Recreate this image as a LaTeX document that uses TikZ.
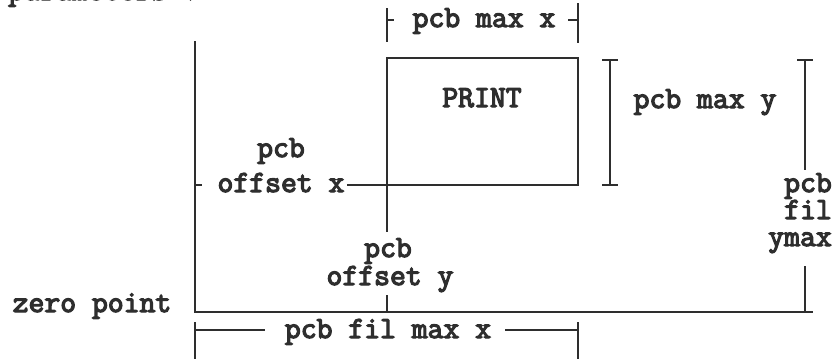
\documentclass[tikz,border=0pt]{standalone}
\usepackage{fontspec}
\newfontfamily\tw[FakeBold=4]{Latin Modern Mono}
\definecolor{ink}{HTML}{2E2E2E}
\begin{document}
\begin{tikzpicture}[x=1pt,y=-1pt,
  lbl/.style={font=\tw\fontsize{30.8}{30.8}\selectfont, text=ink, inner sep=0pt, anchor=base},
  ln/.style={draw=ink, line width=2.8pt, line cap=butt, line join=miter}]
\clip (0,0) rectangle (835,359);
\fill[white] (0,0) rectangle (835,359);
% texts
\node[lbl, anchor=base west] (par) at (8,0) {parameters :};
\node[lbl] (pmx) at (484,27) {pcb max x};
\node[lbl] (print) at (482,107) {PRINT};
\node[lbl] (pmy) at (705,108) {pcb max y};
\node[lbl] (oxa) at (281,157) {pcb};
\node[lbl] (oxb) at (281,192) {offset x};
\node[lbl] (oya) at (388,257) {pcb};
\node[lbl] (oyb) at (390,285) {offset y};
\node[lbl, anchor=base east] (fya) at (832,192) {pcb};
\node[lbl, anchor=base east] (fyb) at (832,219) {fil};
\node[lbl, anchor=base east] (fyc) at (832,246) {ymax};
\node[lbl] (zero) at (92,312) {zero point};
\node[lbl] (fmx) at (388,338) {pcb fil max x};
% coordinates
\coordinate (o) at (195,312);
\coordinate (ltop) at (195,41);
\coordinate (bend) at (813,312);
\coordinate (r1) at (387,58);
\coordinate (r2) at (578,185);
\coordinate (rbl) at (387,185);
% frame
\draw[ln] (ltop) -- (o) -- (bend);
\draw[ln] (r1) rectangle (r2);
% offset x
\draw[ln] (195,185) -- (202,185);
\draw[ln] (347,185) -- (rbl);
% offset y
\draw[ln] (rbl) -- (387,232);
\draw[ln] (387,295) -- (387,312);
% pcb max x
\draw[ln] (387,8) -- (387,42);
\draw[ln] (387,20) -- (394,20);
\draw[ln] (578,3) -- (578,43);
\draw[ln] (568,20) -- (578,20);
% pcb max y
\draw[ln] (610,60) -- (610,185);
\draw[ln] (602,60) -- (618,60);
\draw[ln] (602,185) -- (618,185);
% pcb fil ymax
\draw[ln] (805,60) -- (805,170);
\draw[ln] (797,60) -- (813,60);
\draw[ln] (805,266) -- (805,312);
% pcb fil max x
\draw[ln] (195,322) -- (195,359);
\draw[ln] (195,330) -- (265,330);
\draw[ln] (505,330) -- (578,330);
\draw[ln] (578,322) -- (578,359);
\end{tikzpicture}
\end{document}
